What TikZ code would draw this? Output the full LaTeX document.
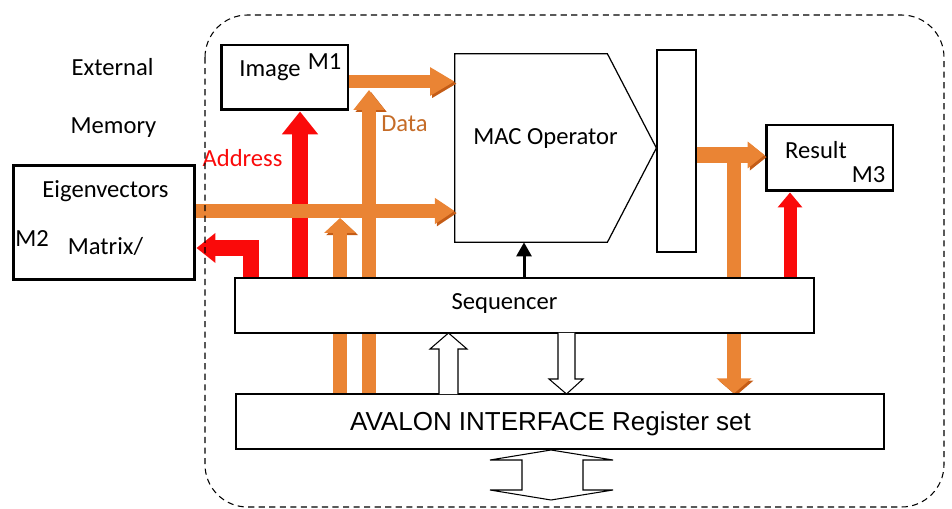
\documentclass[tikz,border=0pt]{standalone}
\usepackage{fontspec}
\setmainfont{Carlito}
\newfontfamily\avalonfont{Liberation Sans}
\usetikzlibrary{arrows.meta,backgrounds}
\definecolor{busorange}{RGB}{234,132,52}
\definecolor{busdark}{RGB}{196,92,22}
\definecolor{busred}{RGB}{250,10,10}
\definecolor{datatext}{RGB}{197,108,40}
\begin{document}
\begin{tikzpicture}[
  x=0.02cm, y=-0.02cm,
  every node/.style={font=\fontsize{14}{16}\selectfont},
  memory/.style={draw, line width=1.7pt, fill=white, inner sep=0pt},
  block/.style={draw, line width=0.7pt, fill=white, inner sep=0pt},
  txt/.style={anchor=base, inner sep=0pt},
  obus/.style={busorange, line width=8pt, -{Triangle[length=11pt, width=16pt]},
    preaction={draw=busdark, transform canvas={xshift=1.2pt, yshift=-1.2pt}}},
  rbus/.style={busred, line width=9.5pt, line join=miter, -{Triangle[length=12pt, width=19pt]}},
  ctrl/.style={line width=1.7pt, -{Triangle[length=8pt, width=8.5pt]}},
  hollow/.style={draw, line width=0.6pt, fill=white, line join=miter}
]
\useasboundingbox (0,0) rectangle (952,509);

% memories
\node[memory, minimum width=2.54cm, minimum height=1.3cm]  (img) at (284.5,77.5) {};
\node[memory, minimum width=3.64cm, minimum height=2.3cm]  (eig) at (104,222.5) {};
\node[memory, minimum width=2.54cm, minimum height=1.32cm] (res) at (829.5,158) {};

% datapath blocks
\node[inner sep=0pt, minimum width=3.04cm, minimum height=3.76cm] (mac) at (531,148) {};
\node[block, minimum width=0.78cm, minimum height=4.04cm]  (bar) at (676.5,151) {};
\draw[block] (mac.north west) -- (mac.north east) -- (mac.east -| bar.west)
  -- (mac.south east) -- (mac.south west) -- cycle;
\node[block, minimum width=11.58cm, minimum height=1.1cm]  (seq) at (524.5,305.5) {};
\node[block, minimum width=12.96cm, minimum height=1.1cm]  (ava) at (560,421.5) {};

% bus positions
\coordinate (addr)  at (300,0);
\coordinate (m2in)  at (251,0);
\coordinate (m3in)  at (790,0);
\coordinate (macin) at (524,0);
\coordinate (dat)   at (369,90);
\coordinate (eigin) at (340,218);
\coordinate (dn)    at (734,155);

% buses running behind the sequencer
\begin{scope}[on background layer]
\draw[obus, line width=8pt, -{Triangle[length=11.3pt, width=17pt]}] (dat |- ava.north) -- (dat);
\draw[obus, line width=8.5pt, -{Triangle[length=8.5pt, width=17.6pt]}] (eigin |- ava.north) -- (eigin);
\draw[obus, line width=8.5pt, -{Triangle[length=8.5pt, width=19.3pt]}] (dn) -- (dn |- ava.north);
\end{scope}

% address lines
\draw[rbus, -{Triangle[length=13pt, width=19.8pt]}] (addr |- seq.north) -- (addr |- img.south);
\draw[rbus, line width=9pt, -{Triangle[length=10.8pt, width=16.4pt]}] (m2in |- seq.north) |- ([yshift=-0.51cm]eig.east);
\draw[rbus, line width=7.4pt, -{Triangle[length=8.5pt, width=13.6pt]}] (m3in |- seq.north) -- (m3in |- res.south);

% data lines
\draw[obus, line width=7.4pt, -{Triangle[length=14pt, width=15.3pt]}] ([yshift=-0.08cm]img.east) -- ([yshift=-0.08cm]img.east -| mac.west);
\draw[obus, line width=7.4pt, -{Triangle[length=11.3pt, width=14.2pt]}] ([yshift=0.23cm]eig.east) -- ([yshift=0.23cm]eig.east -| mac.west);
\draw[obus, line width=9pt, -{Triangle[length=9.6pt, width=14.7pt]}] ([yshift=-0.08cm]bar.east) -- ([yshift=-0.08cm]bar.east -| res.west);

% control
\draw[ctrl] (macin |- seq.north) -- (macin |- mac.south);

% register set handshakes
\draw[hollow] (439,394) -- (439,349) -- (430,349) -- (448.5,333) -- (467,349) -- (458,349) -- (458,394);
\draw[hollow] (558,333) -- (558,379) -- (549,379) -- (566.5,394) -- (583,379) -- (575,379) -- (575,333);
\draw[hollow] (551,450) -- (613,460) -- (583,460) -- (583,490) -- (613,490) -- (551,500)
  -- (490,490) -- (522,490) -- (522,460) -- (490,460) -- cycle;

% texts
\node[txt] (ext)   at (112.5,76)  {External};
\node[txt] (mem)   at (113.5,134) {Memory};
\node[txt] (imgt)  at (270,77)    {Image};
\node[txt] (m1)    at (324.5,70)  {M1};
\node[txt] (eigt)  at (105.5,198) {Eigenvectors};
\node[txt] (m2)    at (32,247)    {M2};
\node[txt] (matt)  at (105.5,255) {Matrix/};
\node[txt, text=busred]   (addrt) at (242.5,167) {Address};
\node[txt, text=datatext] (datt)  at (404.5,132) {Data};
\node[txt] (mact)  at (545.5,145) {MAC Operator};
\node[txt] (rest)  at (816,159)   {Result};
\node[txt] (m3)    at (868.5,183) {M3};
\node[txt] (seqt)  at (504.5,310) {Sequencer};
\node[txt, font=\avalonfont\fontsize{14.8}{17}\selectfont] (avat) at (550.5,430) {AVALON INTERFACE Register set};

% accelerator boundary
\draw[line width=0.6pt, dash pattern=on 3.5pt off 2.5pt, rounded corners=0.85cm] (205,15) rectangle (944,507);
\end{tikzpicture}
\end{document}
